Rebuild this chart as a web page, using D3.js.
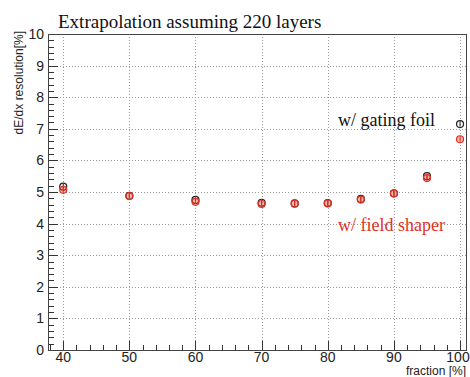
<!DOCTYPE html>
<html>
<head>
<meta charset="utf-8">
<script src="https://cdn.jsdelivr.net/npm/d3@7"></script>
<style>
	body { margin: 0; background: #fff; }
	svg { display: block; }
</style>
</head>
<body>
<div id="chart"></div>
<script>
const fractions = [40, 50, 60, 70, 75, 80, 85, 90, 95, 100]
const gatingFoil = [5.17, 4.88, 4.75, 4.66, 4.64, 4.65, 4.78, 4.96, 5.5, 7.15]
const fieldShaper = [5.07, 4.87, 4.69, 4.62, 4.63, 4.64, 4.76, 4.95, 5.44, 6.67]
const xTicks = [40, 50, 60, 70, 80, 90, 100]
const yTicks = [0, 1, 2, 3, 4, 5, 6, 7, 8, 9, 10]

const width = 470
const height = 377
const frame = { left: 48, right: 466, top: 34, bottom: 350 }

const x = d3.scaleLinear().domain([37.7, 100.9]).range([frame.left, frame.right])
const y = d3.scaleLinear().domain([0, 10]).range([frame.bottom, frame.top])

const svg = d3.select('#chart').append('svg').attr('width', width).attr('height', height)

// grid
const grid = svg.append('g').attr('stroke', '#9a9a9a').attr('stroke-dasharray', '1,2').attr('stroke-width', 1)
grid.selectAll('.gx').data(xTicks).enter().append('line')
	.attr('x1', d => Math.round(x(d)) + 0.5).attr('x2', d => Math.round(x(d)) + 0.5)
	.attr('y1', frame.top).attr('y2', frame.bottom)
grid.selectAll('.gy').data(yTicks.filter(d => d > 0 && d < 10)).enter().append('line')
	.attr('x1', frame.left).attr('x2', frame.right)
	.attr('y1', d => Math.round(y(d)) + 0.5).attr('y2', d => Math.round(y(d)) + 0.5)

// ticks inside the frame
const ticks = svg.append('g').attr('stroke', '#333').attr('stroke-width', 1)
const yMinor = d3.range(0, 10.01, 0.2)
ticks.selectAll('.ty').data(yMinor).enter().append('line')
	.attr('x1', frame.left).attr('x2', d => frame.left + (Math.abs(d - Math.round(d)) < 0.01 ? 10 : 6))
	.attr('y1', d => Math.round(y(d)) + 0.5).attr('y2', d => Math.round(y(d)) + 0.5)
const xMinor = d3.range(38, 101, 2)
ticks.selectAll('.tx').data(xMinor).enter().append('line')
	.attr('x1', d => Math.round(x(d)) + 0.5).attr('x2', d => Math.round(x(d)) + 0.5)
	.attr('y1', frame.bottom).attr('y2', d => frame.bottom - (d % 10 === 0 ? 9 : 5))

// frame
svg.append('rect').attr('x', frame.left + 0.5).attr('y', frame.top + 0.5)
	.attr('width', frame.right - frame.left).attr('height', frame.bottom - frame.top)
	.attr('fill', 'none').attr('stroke', '#444').attr('stroke-width', 1)

// tick labels
svg.append('g').selectAll('text').data(yTicks).enter().append('text')
	.attr('x', 44).attr('y', d => y(d) + 5)
	.attr('text-anchor', 'end')
	.attr('font-family', 'Liberation Sans, Arial, sans-serif').attr('font-size', 14)
	.attr('fill', '#222')
	.text(d => d)
svg.append('g').selectAll('text').data(xTicks).enter().append('text')
	.attr('x', d => Math.min(x(d), 458)).attr('y', 362)
	.attr('text-anchor', 'middle')
	.attr('font-family', 'Liberation Sans, Arial, sans-serif').attr('font-size', 14)
	.attr('fill', '#222')
	.text(d => d)

// axis titles
svg.append('text').attr('x', frame.right).attr('y', 375).attr('text-anchor', 'end')
	.attr('font-family', 'Liberation Sans, Arial, sans-serif').attr('font-size', 12).attr('fill', '#222')
	.text('fraction [%]')
svg.append('text').attr('transform', `translate(23,${frame.top - 3}) rotate(-90)`).attr('text-anchor', 'end')
	.attr('font-family', 'Liberation Sans, Arial, sans-serif').attr('font-size', 12).attr('fill', '#222')
	.text('dE/dx resolution[%]')

// title
svg.append('text').attr('x', 58).attr('y', 28)
	.attr('font-family', 'Liberation Serif, Times New Roman, serif').attr('font-size', 19).attr('fill', '#111')
	.text('Extrapolation assuming 220 layers')

// series
const red = '#e2321f'
const drawSeries = (vals, color, fill) => {
	const g = svg.append('g')
	const pts = fractions.map((f, i) => ({ f, v: vals[i] }))
	g.selectAll('circle').data(pts).enter().append('circle')
		.attr('cx', d => x(d.f)).attr('cy', d => y(d.v)).attr('r', 3.5)
		.attr('fill', fill).attr('stroke', color).attr('stroke-width', 1.2)
	g.selectAll('line').data(pts).enter().append('line')
		.attr('x1', d => x(d.f)).attr('x2', d => x(d.f))
		.attr('y1', d => y(d.v) - 2.5).attr('y2', d => y(d.v) + 2.5)
		.attr('stroke', color).attr('stroke-width', 1)
}
drawSeries(gatingFoil, '#222', 'none')
drawSeries(fieldShaper, red, 'rgba(226,50,31,0.35)')

// labels
svg.append('text').attr('x', 338).attr('y', 126)
	.attr('font-family', 'Liberation Serif, Times New Roman, serif').attr('font-size', 18).attr('fill', '#111')
	.text('w/ gating foil')
svg.append('text').attr('x', 338).attr('y', 231)
	.attr('font-family', 'Liberation Serif, Times New Roman, serif').attr('font-size', 18).attr('fill', red)
	.text('w/ field shaper')
</script>
</body>
</html>
